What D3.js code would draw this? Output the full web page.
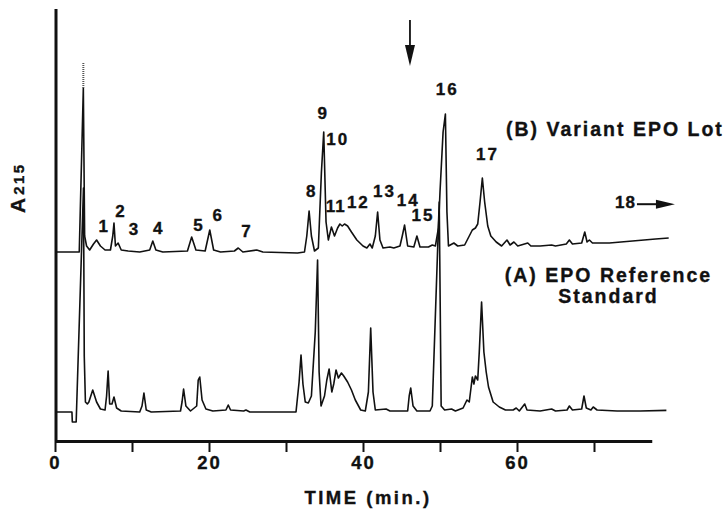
<!DOCTYPE html>
<html><head><meta charset="utf-8">
<script src="https://cdn.jsdelivr.net/npm/d3@7"></script>
<style>
body{margin:0;background:#fff}
svg{display:block}
text{font-family:"Liberation Sans",Arial,Helvetica,sans-serif;font-weight:bold;fill:#111;stroke:#111;stroke-width:0.35px}
</style>
</head><body>
<svg id="c" width="727" height="513"></svg>
<script>
// ---- data ----
const xTicks = [0,10,20,30,40,50,60,70];
const xTickLabels = ["0","","20","","40","","60",""];

// (A) EPO Reference Standard: [time (min), absorbance (arb. units)]
const traceA = [
 [0,0],[2.2,0],[2.25,-5],[2.75,-5],[3.7,112],[3.8,28],[3.95,5],[4.2,4],[4.4,5],[4.9,11],[5.4,5],[5.9,1.5],
 [6.5,1],[6.7,8],[6.9,20.5],[7.1,4],[7.4,4],[7.66,7.5],[8.0,2],[8.6,0.5],[11.0,0],[11.3,3],[11.55,9.5],
 [11.85,1],[12.5,0],[16.3,0.5],[16.5,5],[16.7,11.5],[17.0,3],[17.6,0.5],[18.4,3],[18.6,16],[18.8,17.5],
 [19.1,6],[19.6,1.5],[20.5,0.5],[22.2,1],[22.5,3.5],[22.8,1],[24.5,0.5],[24.8,1],[25.3,0],[31.3,0],
 [31.7,15],[31.95,28.5],[32.2,14],[32.5,5],[32.9,4.5],[33.3,8],[33.8,40],[34.1,76],[34.3,20],[34.55,3],
 [35.0,8],[35.3,16],[35.6,21.5],[35.95,10],[36.2,14],[36.5,21],[36.8,17],[37.2,19.5],[37.5,18],[38.0,15],
 [38.5,11],[39.0,6],[39.7,1],[40.3,0.5],[40.7,10],[41.0,42],[41.3,10],[41.6,1],[43.0,1.5],[43.5,0.5],
 [45.8,0.5],[46.0,8],[46.2,12],[46.5,3],[47,0.5],[48.7,0.5],[49.0,3],[49.9,105],[50.15,3],[50.6,1],
 [51.5,1.5],[52.0,0.5],[53.0,2],[53.5,6],[53.8,5],[54.2,17.5],[54.4,14],[54.6,18],[54.9,16],[55.1,30],
 [55.4,55],[55.7,30],[56.0,20],[56.3,12.5],[56.9,5],[57.7,2.5],[58.5,1],[59.5,1],[59.9,2],[60.3,0.5],
 [61.0,4],[61.3,1],[63,0.5],[64.5,1.5],[65,0.5],[66.5,1],[66.8,3],[67.2,1],[68.4,1.5],[68.7,8],[69.0,2],
 [69.6,1],[69.9,2.5],[70.4,1],[73,0.5],[76,0.5],[79.4,0.8]
];

// (B) Variant EPO Lot: [time (min), absorbance (arb. units)]
const traceB = [
 [0,0],[3.15,0],[3.68,82],[3.85,8],[4.1,3],[4.5,1],[5.0,4],[5.4,6],[5.9,3],[6.5,1],[7.2,1],[7.5,8],
 [7.66,14.5],[7.85,3],[8.2,4.5],[8.6,1],[9.5,0.5],[11,0],[12.3,1],[12.7,5.5],[13.1,1],[14,0],[17.2,0.5],
 [17.75,7.5],[18.3,1],[19.5,0.5],[20.1,11],[20.6,1],[21.5,0],[23.3,0.5],[23.8,2],[24.4,0],[26.2,1],[27,0],
 [31.5,-0.5],[32.4,0],[32.7,8],[33.0,20.5],[33.3,8],[33.7,0.5],[34.2,2],[34.6,40],[34.9,60],[35.2,15],
 [35.5,6],[35.9,12.5],[36.3,8],[36.7,12],[37.0,14],[37.3,13],[37.6,14],[38.0,13],[38.5,10],[39.2,6],
 [40.0,3],[40.5,2],[40.9,4],[41.2,2],[41.6,8],[41.9,20],[42.2,6],[42.6,2],[43.5,2.5],[44.0,2],[44.8,3],
 [45.1,8],[45.4,13.5],[45.8,3],[46.6,2.5],[47.0,8],[47.4,2.5],[48.5,2.5],[49.0,3.5],[49.4,3],[49.8,12],
 [50.0,30],[50.4,60],[50.7,69],[50.9,20],[51.1,3],[51.8,4.5],[52.3,3],[53.2,3.5],[53.8,8],[54.2,11],
 [54.6,12],[54.9,14],[55.2,25],[55.5,37],[55.8,25],[56.2,13],[56.6,8],[57.3,5],[58.0,3],[58.7,6],[59.1,3.5],
 [59.6,5],[60.1,3],[61.4,4.5],[61.8,3],[63,3],[64.5,3.5],[65,3],[66.4,4],[66.8,6],[67.2,4],[68.4,4.5],
 [68.8,10],[69.1,5],[69.4,6],[69.8,4.5],[72,4.5],[75,5.5],[78,6.5],[79.7,7]
];
const offsetB = 80;             // vertical offset of trace B
const saturatedB = [3.68, 82, 95]; // time, from, to (off-scale part of solvent front)

const peakLabels = ["1","2","3","4","5","6","7","8","9","10","11","12","13","14","15","16","17"];
const peakTimes  = [6.39,8.57,10.32,13.47,18.7,21.2,24.94,33.34,34.84,36.73,36.45,39.4,42.79,45.88,47.79,50.93,56.17];
const peakLevels = [90.2,97.4,88.5,89,90.7,95.7,87.7,107.7,146.5,133.5,99.8,101.9,107.4,103.2,95.7,158.5,126];
const peakSpacing = [2,2,2,2,2,2,2,2,2,2,1,2,2,2,2,2,2];

const label18 = {text:"18", time:72.73, level:101.9};
const arrowTime = 46.1;

// ---- drawing ----
const svg = d3.select("#c");
const x = d3.scaleLinear().domain([0,77.5]).range([55,651.75]);
const y = d3.scaleLinear().domain([0,200]).range([412,12]);

// y axis
svg.append("line").attr("x1",56).attr("x2",56).attr("y1",9).attr("y2",441)
  .attr("stroke","#111").attr("stroke-width",3);

// x axis
const xAxis = d3.axisBottom(x).tickValues(xTicks).tickSize(11).tickSizeOuter(0).tickPadding(4)
  .tickFormat((d,i)=>xTickLabels[i]);
const gx = svg.append("g").attr("transform","translate(0,441)").call(xAxis);
gx.select(".domain").attr("stroke","#111").attr("stroke-width",3);
gx.selectAll(".tick line").attr("stroke","#111").attr("stroke-width",2);
gx.selectAll(".tick text").attr("fill","#111").style("font-size","18.5px").style("letter-spacing","2px")
  .style("font-family","'Liberation Sans',Arial,sans-serif").style("font-weight","bold");

svg.append("text").attr("x",368).attr("y",504).attr("text-anchor","middle")
  .style("font-size","18.5px").style("letter-spacing","2.5px").text("TIME (min.)");

// y label A215 (rotated)
const yl = svg.append("text").attr("x",25).attr("y",213).attr("transform","rotate(-90 25 213)");
yl.append("tspan").style("font-size","21px").text("A");
yl.append("tspan").attr("dx",3).attr("dy",-1.5).style("font-size","15px").style("letter-spacing","2.5px").text("215");

// traces
const lineA = d3.line().x(d=>x(d[0])).y(d=>y(d[1]));
const lineB = d3.line().x(d=>x(d[0])).y(d=>y(d[1]+offsetB));
svg.append("path").attr("d",lineA(traceA)).attr("fill","none").attr("stroke","#111")
  .attr("stroke-width",1.6).attr("stroke-linejoin","round");
svg.append("path").attr("d",lineB(traceB)).attr("fill","none").attr("stroke","#111")
  .attr("stroke-width",1.6).attr("stroke-linejoin","round");
svg.append("line").attr("x1",x(saturatedB[0])).attr("x2",x(saturatedB[0]))
  .attr("y1",y(saturatedB[1]+offsetB)).attr("y2",y(saturatedB[2]+offsetB))
  .attr("stroke","#555").attr("stroke-width",2).attr("stroke-dasharray","1,1");

// peak labels
svg.selectAll("text.pk").data(peakLabels).join("text").attr("class","pk")
  .attr("x",(d,i)=>x(peakTimes[i])).attr("y",(d,i)=>y(peakLevels[i]))
  .attr("text-anchor","middle").style("font-size","17px")
  .style("letter-spacing",(d,i)=>peakSpacing[i]+"px").text(d=>d);

// 18 ->
const t18 = svg.append("text").attr("x",x(label18.time)).attr("y",y(label18.level))
  .style("font-size","17px").style("letter-spacing","1px").text(label18.text);
const bb = t18.node().getBBox();
const ay = y(label18.level) - 4;
svg.append("line").attr("x1",bb.x+bb.width+1).attr("x2",bb.x+bb.width+22).attr("y1",ay).attr("y2",ay)
  .attr("stroke","#111").attr("stroke-width",2);
svg.append("path").attr("d",`M${bb.x+bb.width+20},${ay-4.5}L${bb.x+bb.width+39},${ay}L${bb.x+bb.width+20},${ay+4.5}Z`)
  .attr("fill","#111");

// top arrow
const ax = x(arrowTime);
svg.append("line").attr("x1",ax).attr("x2",ax).attr("y1",20).attr("y2",48).attr("stroke","#111").attr("stroke-width",1.8);
svg.append("path").attr("d",`M${ax-5},45L${ax+5},45L${ax},66Z`).attr("fill","#111");

// series labels
svg.append("text").attr("x",506).attr("y",135.7).style("font-size","19.5px").style("letter-spacing","2px")
  .text("(B) Variant EPO Lot");
svg.append("text").attr("x",608.5).attr("y",281.7).attr("text-anchor","middle").style("font-size","19.5px")
  .style("letter-spacing","2px").text("(A) EPO Reference");
svg.append("text").attr("x",608.5).attr("y",302.7).attr("text-anchor","middle").style("font-size","19.5px")
  .style("letter-spacing","2px").text("Standard");
</script>
</body></html>
